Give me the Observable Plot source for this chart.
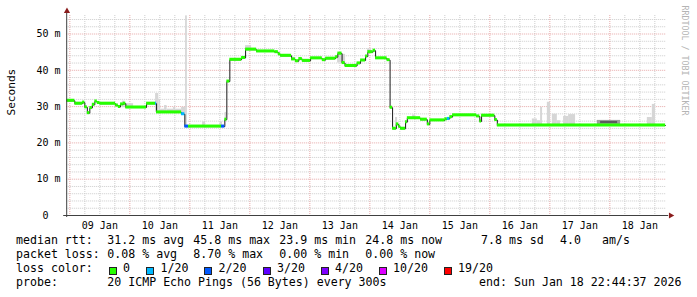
<!DOCTYPE html>
<html><head><meta charset="utf-8">
<script src="https://cdn.jsdelivr.net/npm/d3@7"></script>
<script src="https://cdn.jsdelivr.net/npm/@observablehq/plot@0.6"></script>
<style>
html,body{margin:0;padding:0;background:#fff;}
#wrap{position:relative;width:697px;height:297px;overflow:hidden;font-family:'DejaVu Sans Mono',monospace;background:#fff;}
#chart svg{display:block;}
.lg{position:absolute;font-size:11.6px;line-height:13px;white-space:pre;color:#000;}
.box{position:absolute;width:6px;height:6px;border:1px solid #222;}
</style></head><body>
<div id="wrap"><div id="chart"></div><div id="legend"></div></div>
<script>
// ---- data (hours since 2026-01-09 00:00 UTC) ----
const medianHours = [-1.25,2.0,5.1,6.0,7.0,8.0,9.0,10.0,11.0,12.0,18.3,19.4,20.3,21.4,22.4,30.7,34.3,34.7,44.7,46.0,47.5,60.7,62.0,62.8,64.0,68.7,70.3,74.7,82.0,83.4,84.3,88.7,90.3,91.6,93.0,96.3,101.0,102.3,106.3,107.2,108.9,110.1,114.9,116.3,118.3,119.2,121.3,122.3,126.9,128.1,129.1,130.6,131.6,132.3,134.3,135.0,140.3,143.0,144.0,150.0,151.0,152.0,153.1,162.7,164.0,164.7,170.0,171.0];
const medianMs    = [31.6,30.8,31.1,29.8,28.2,29.6,30.5,31.4,31.0,30.8,30.3,29.9,30.6,30.8,29.75,30.8,30.8,28.4,27.9,24.5,24.5,24.5,26.4,36.9,42.9,43.4,45.7,45.2,45.0,44.4,44.0,43.0,42.5,43.1,42.6,43.3,42.8,43.2,43.6,44.6,42.0,41.2,41.9,42.7,43.8,45.0,45.4,43.3,42.8,29.7,23.9,25.1,24.4,23.9,25.7,26.8,26.4,25.1,26.2,26.5,26.6,27.1,27.6,27.3,25.9,27.5,26.3,24.8];
const medianLoss  = [0,0,0,0,0,0,0,0,0,0,0,0,0,0,0,0,1,0,1,2,0,2,0,0,0,0,0,0,0,0,0,0,0,0,0,0,0,0,0,0,0,0,0,0,0,0,0,0,0,0,0,0,0,0,0,0,0,0,0,0,1,0,0,0,0,0,0,0];
const medianEndHour = 238.3;

const smokeStart = [21.0,22.1,34.3,35.6,36.3,37.9,38.9,41.5,42.3,44.7,46.3,53.1,60.1,62.1,70.3,88.7,107.1,119.1,130.3,137.1,185.0,187.0,188.3,191.0,193.0,195.0,197.5,199.5,211.0,212.3,231.0,233.0];
const smokeEnd   = [22.1,25.5,35.6,36.3,37.9,38.9,41.5,42.3,44.7,46.3,47.0,54.3,61.1,62.7,72.7,89.9,110.3,120.7,131.1,138.3,187.0,188.3,189.1,192.3,195.0,196.3,199.5,202.3,220.3,219.1,233.0,234.3];
const smokeLow   = [29.7,29.7,28.4,28.4,28.4,28.4,28.4,28.4,28.4,27.9,24.5,24.5,24.5,26.4,45.7,43.0,42.0,45.0,24.5,26.8,24.8,24.8,24.8,24.8,24.8,24.8,24.8,24.8,25.0,25.3,24.8,24.8];
const smokeHigh  = [31.5,30.8,33.6,32.0,29.3,30.3,29.3,29.8,29.3,29.8,55.0,25.8,25.8,28.4,46.8,43.6,44.4,45.9,27.0,27.7,26.6,26.1,29.8,31.2,27.9,26.1,27.3,27.8,26.2,25.9,27.0,30.6];
const smokeShade = [0,0,0,0,0,0,0,0,0,0,0,0,0,0,0,0,0,0,0,0,0,0,0,0,0,0,0,0,1,2,0,0];

const yTickValues = [0,10,20,30,40,50];
const xLabelDays = ["2026-01-09","2026-01-10","2026-01-11","2026-01-12","2026-01-13","2026-01-14","2026-01-15","2026-01-16","2026-01-17","2026-01-18"];

const lossLabels = ["0","1/20","2/20","3/20","4/20","10/20","19/20"];
const lossColors = ["#26ff00","#00b8ff","#0059ff","#5e00ff","#7e00ff","#dd00ff","#ff0000"];
const rowLabels = ["median rtt:","packet loss:","loss color:","probe:"];
const rttStats = ["31.2 ms avg","45.8 ms max","23.9 ms min","24.8 ms now","7.8 ms sd","4.0","am/s"];
const lossStats = ["0.08 % avg","8.70 % max","0.00 % min","0.00 % now"];
const probeText = "20 ICMP Echo Pings (56 Bytes) every 300s";
const endText = "end: Sun Jan 18 22:44:37 2026";
const yTitle = "Seconds";
const watermark = "RRDTOOL / TOBI OETIKER";

// ---- build ----
const t0 = Date.UTC(2026,0,9);
const toDate = h => new Date(t0 + h*3600e3);
const endTime = new Date(Date.UTC(2026,0,18,22,44,37));
const startTime = new Date(endTime - 10*86400e3);

const segs = medianHours.map((h,i)=>({
  x1: toDate(h), x2: toDate(i+1<medianHours.length ? medianHours[i+1] : medianEndHour),
  v: medianMs[i], loss: medianLoss[i]}));
const linePts = segs.map(s=>({x:s.x1, v:s.v})).concat([{x: toDate(medianEndHour), v: medianMs[medianMs.length-1]}]);
const smoke = smokeStart.map((s,i)=>({x1: toDate(s), x2: toDate(smokeEnd[i]), y1: smokeLow[i], y2: smokeHigh[i], shade: smokeShade[i]}));
const shadeColors = ["#d6d6d6","#9c9c9c","#5c5c5c"];

const minorY = d3.range(2,55,2).filter(v=>v%10!==0);
const majorY = [10,20,30,40,50];
const gridX = d3.utcHour.every(6).range(startTime, endTime);
const minorX = gridX.filter(d=>d.getUTCHours()!==0);
const majorX = gridX.filter(d=>d.getUTCHours()===0);
const noons = xLabelDays.map(s=>new Date(s+"T12:00:00Z"));

const GRID = "#cccccc", MGRID = "#e6a8a8";

const chart = Plot.plot({
  width: 697, height: 232,
  marginLeft: 66.2, marginRight: 30.8, marginTop: 15, marginBottom: 17,
  x: {type:"utc", domain:[startTime,endTime], axis:null},
  y: {domain:[0,55.1], axis:null},
  style: {fontFamily:"'DejaVu Sans Mono', monospace", fontSize:"10px", background:"#fff", color:"#000", overflow:"visible"},
  marks: [
    Plot.ruleY(minorY, {stroke:GRID, strokeDasharray:"1,1"}),
    Plot.ruleX(minorX, {stroke:GRID, strokeDasharray:"1,1"}),
    Plot.ruleY(majorY, {stroke:MGRID, strokeDasharray:"1,1"}),
    Plot.ruleX(majorX, {stroke:MGRID, strokeDasharray:"1,1"}),
    Plot.rect(smoke, {x1:"x1", x2:"x2", y1:"y1", y2:"y2", fill: d=>shadeColors[d.shade]}),
    Plot.line(linePts, {x:"x", y:"v", curve:"step-after", stroke:"#1a1a1a", strokeWidth:1}),
    Plot.rect(segs, {x1:"x1", x2:"x2", y1: d=>d.v-0.42, y2: d=>d.v+0.42, fill: d=>lossColors[d.loss]}),
    // axes
    Plot.ruleY([0], {stroke:"#404040", insetLeft:-3, insetRight:-2}),
    Plot.ruleX([startTime], {stroke:"#404040", insetTop:-3, insetBottom:-2}),
    Plot.dot([0], {frameAnchor:"top-left", dy:-4.3, dx:0.3, symbol:"triangle", r:2.3, fill:"#8a1c1c", stroke:"none"}),
    Plot.dot([0], {frameAnchor:"bottom-right", dx:4, symbol:"triangle", rotate:90, r:2.3, fill:"#8a1c1c", stroke:"none"}),
    Plot.axisX(noons, {tickSize:0, tickPadding:6.2, tickFormat: d3.utcFormat("%d %b"), label:null, fontSize:10}),
    Plot.axisY(yTickValues, {tickSize:0, tickPadding:6.2, tickFormat: d => d===0 ? "0\u00a0\u00a0" : d+" m", label:null, fontSize:10}),
    Plot.text([yTitle], {frameAnchor:"left", dx:-55, rotate:-90, text:d=>d, fontSize:11.1, fill:"#000"}),
    Plot.text([watermark], {frameAnchor:"top-right", dx:21.5, dy:-10, rotate:90, textAnchor:"start", text:d=>d, fontSize:8.3, fill:"#b4b4b4"})
  ]
});
document.getElementById("chart").appendChild(chart);

// ---- legend ----
const lg = document.getElementById("legend");
const baselines = [244.7, 258.7, 272.7, 287];
function addText(txt, x, row){
  const s = document.createElement("span");
  s.className = "lg"; s.textContent = txt;
  s.style.left = x+"px"; s.style.top = (baselines[row]-10.6)+"px";
  lg.appendChild(s); return s;
}
rowLabels.forEach((t,i)=>addText(t,16,i));
const rttX = [107.3,193.3,279.3,365.3,481,560,602];
rttStats.forEach((t,i)=>addText(t,rttX[i],0));
const lossX = [107.3,193.3,279.3,365.3];
lossStats.forEach((t,i)=>addText(t,lossX[i],1));
const boxX = [108.5,146,204,262.5,320.5,378.5,443.5];
lossLabels.forEach((t,i)=>{
  const b = document.createElement("div");
  b.className = "box"; b.style.left = boxX[i]+"px"; b.style.top = "266.8px"; b.style.background = lossColors[i];
  lg.appendChild(b);
  addText(t, boxX[i]+14.5, 2);
});
addText(probeText, 107.3, 3);
const e = addText(endText, 0, 3);
e.style.left = "auto"; e.style.right = (697-681.5)+"px";
</script></body></html>
